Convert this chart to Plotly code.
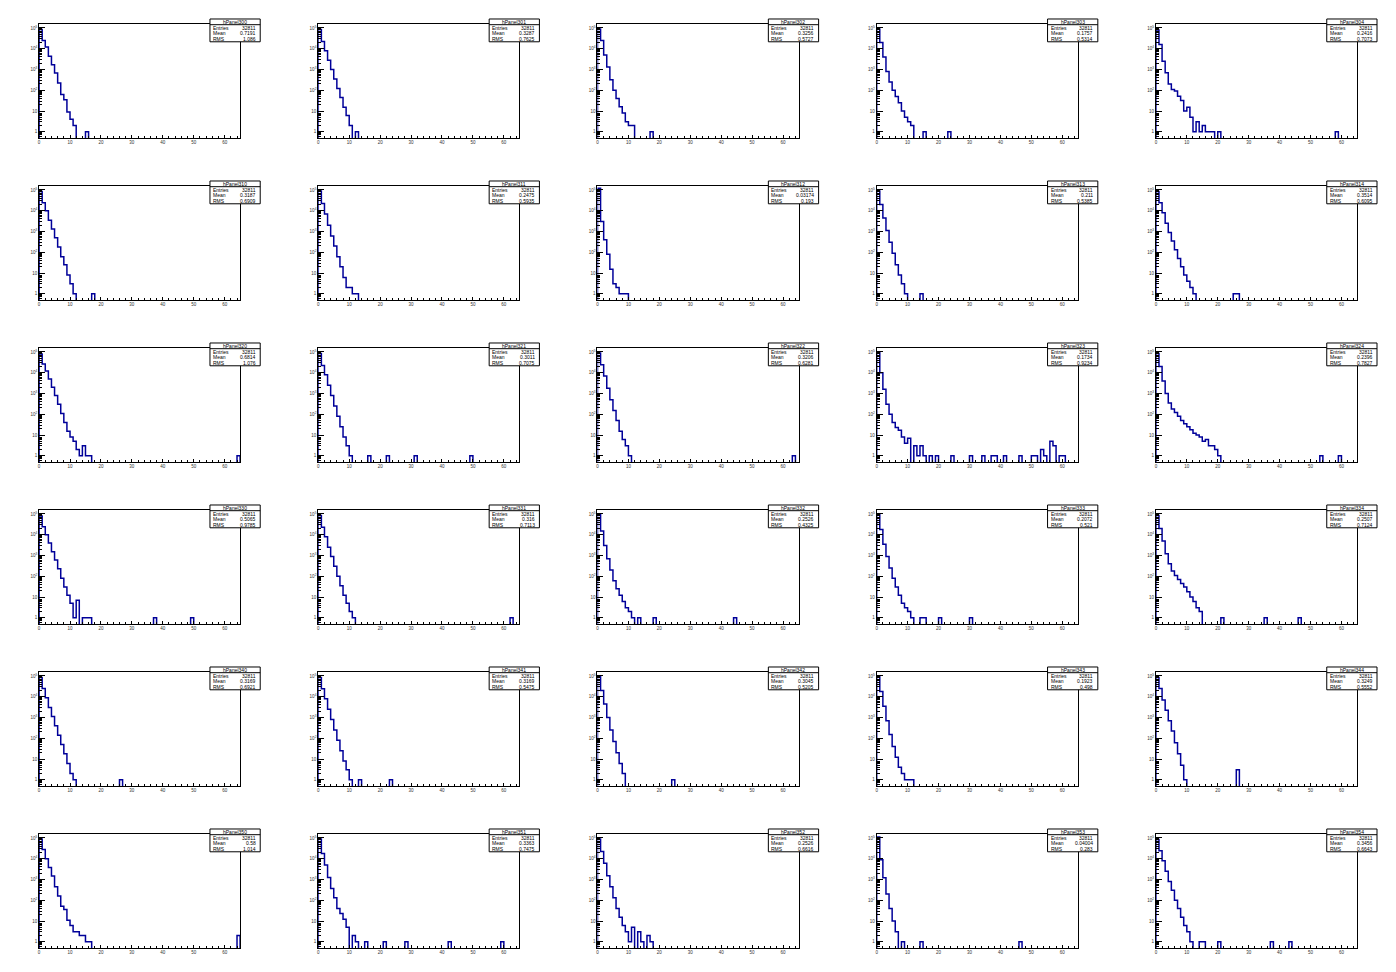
import math
import plotly.graph_objects as go

W, H = 1396, 972
NBINS = 65
X_MAX = 65
Y_MIN_LOG = math.log10(0.5)
Y_MAX_LOG = 5.19

# ---------------- data (bin contents, bin width 1 starting at 0) ----------------
panel_names = ["hPanel300", "hPanel301", "hPanel302", "hPanel303", "hPanel304",
               "hPanel310", "hPanel311", "hPanel312", "hPanel313", "hPanel314",
               "hPanel320", "hPanel321", "hPanel322", "hPanel323", "hPanel324",
               "hPanel330", "hPanel331", "hPanel332", "hPanel333", "hPanel334",
               "hPanel340", "hPanel341", "hPanel342", "hPanel343", "hPanel344",
               "hPanel350", "hPanel351", "hPanel352", "hPanel353", "hPanel354"]
stat_entries = ["32811"] * 30
stat_means = ["0.7191", "0.3287", "0.3256", "0.1757", "0.2416",
              "0.3187", "0.2475", "0.03174", "0.211", "0.3514",
              "0.6814", "0.3011", "0.3206", "0.1734", "0.2396",
              "0.5065", "0.316", "0.2526", "0.2072", "0.2507",
              "0.3169", "0.3169", "0.3045", "0.1923", "0.3249",
              "0.58", "0.3363", "0.2526", "0.04004", "0.3456"]
stat_rms = ["1.086", "0.7625", "0.5727", "0.5314", "0.7073",
            "0.6909", "0.5935", "0.193", "0.5385", "0.6095",
            "1.076", "0.7075", "0.6281", "0.9234", "0.7827",
            "0.9785", "0.7113", "0.4325", "0.521", "0.7124",
            "0.6921", "0.5475", "0.5205", "0.498", "0.5552",
            "1.014", "0.7475", "0.6616", "0.283", "0.6643"]

h300 = [85000, 25000, 12000, 4300, 1700, 680, 220, 63, 35, 9, 4, 2, 0, 0, 0, 1]
h301 = [85000, 22000, 8000, 2800, 1000, 350, 120, 45, 15, 6, 2, 0, 1]
h302 = [90000, 25000, 5000, 1300, 320, 100, 40, 16, 8, 3, 2, 2, 0, 0, 0, 0, 0, 1]
h303 = [90000, 20000, 4000, 800, 250, 100, 50, 25, 10, 5, 3, 2, 0, 0, 0, 1,
        0, 0, 0, 0, 0, 0, 0, 1]
h304 = [80000, 16000, 2500, 700, 200, 110, 93, 52, 32, 10, 15, 5, 1, 3, 1, 2,
        1, 1, 1, 0, 1] + [0] * 37 + [1]
h310 = [85000, 24000, 10000, 3500, 1300, 500, 180, 60, 25, 8, 3, 1, 0, 0, 0, 0, 0, 1]
h311 = [90000, 22000, 7000, 2000, 600, 200, 60, 20, 6, 2, 2, 1, 1]
h312 = [120000, 3000, 400, 80, 15, 3, 2, 1, 1, 1]
h313 = [90000, 20000, 4500, 1100, 300, 90, 25, 8, 3, 1, 0, 0, 0, 0, 1]
h314 = [85000, 24000, 8000, 2500, 900, 350, 130, 50, 20, 8, 4, 2, 1] + [0] * 12 + [1, 1]
h320 = [80000, 26000, 12000, 5000, 2000, 800, 300, 110, 40, 15, 8, 5, 2, 1, 3, 1, 1] + [0] * 47 + [1]
h321 = [85000, 22000, 8000, 2500, 800, 250, 80, 25, 8, 3, 1, 0, 0, 0, 0, 0, 1,
        0, 0, 0, 0, 0, 1] + [0] * 8 + [1] + [0] * 17 + [1]
h322 = [90000, 24000, 7000, 1800, 500, 150, 50, 15, 6, 3, 1] + [0] * 52 + [1]
h323 = [100000, 10000, 1600, 300, 100, 40, 23, 17, 8, 4, 7, 0, 3, 1, 3, 1, 0, 1, 0, 1,
        0, 0, 0, 0, 1, 0, 0, 0, 0, 0, 1, 0, 0, 0, 1, 0, 0, 1, 1, 0, 0, 1, 0, 0, 0, 0, 1,
        0, 0, 0, 1, 1, 0, 2, 1, 0, 5, 3, 0, 1, 1]
h324 = [85000, 20000, 4000, 1000, 350, 180, 120, 80, 50, 35, 25, 18, 12, 10, 8, 5, 6, 3, 3, 2, 1] + \
       [0] * 32 + [1, 0, 0, 0, 0, 0, 1]
h330 = [80000, 24000, 10000, 4000, 1500, 600, 230, 80, 30, 12, 5, 1, 7, 0, 1, 1, 1] + \
       [0] * 20 + [1] + [0] * 11 + [1]
h331 = [85000, 23000, 8000, 2500, 900, 300, 100, 35, 12, 5, 2, 1] + [0] * 50 + [1]
h332 = [95000, 15000, 3000, 700, 200, 60, 25, 12, 6, 3, 2, 1, 0, 1, 0, 0, 0, 0, 1] + [0] * 25 + [1]
h333 = [95000, 18000, 3500, 900, 250, 80, 30, 12, 5, 3, 2, 1, 0, 0, 1, 1, 0, 0, 0, 0, 1] + [0] * 9 + [1]
h334 = [85000, 20000, 5000, 1200, 400, 180, 110, 70, 45, 30, 18, 10, 6, 3, 2, 0, 0, 0, 0, 0, 0, 1] + \
       [0] * 13 + [1] + [0] * 10 + [1]
h340 = [85000, 25000, 9000, 3000, 1100, 400, 140, 50, 18, 6, 2, 1] + [0] * 14 + [1]
h341 = [85000, 24000, 8000, 2500, 800, 250, 80, 25, 8, 3, 1, 0, 0, 1] + [0] * 9 + [1]
h342 = [95000, 20000, 4500, 1000, 250, 70, 20, 6, 2] + [0] * 15 + [1]
h343 = [95000, 18000, 3500, 700, 150, 40, 12, 4, 2, 1, 1, 1]
h344 = [85000, 25000, 7000, 2200, 700, 220, 60, 18, 5, 1] + [0] * 16 + [3]
h350 = [90000, 28000, 10000, 3800, 1450, 450, 160, 52, 36, 11, 6, 3, 3, 2, 2, 1, 1] + [0] * 47 + [2]
h351 = [90000, 18000, 5000, 1260, 370, 130, 40, 23, 12, 5, 0, 2, 1, 0, 0, 1, 0, 0, 0, 0, 0, 1] + \
       [0] * 6 + [1] + [0] * 13 + [1] + [0] * 16 + [1]
h352 = [90000, 22000, 6000, 1500, 450, 130, 40, 15, 6, 3, 1, 5, 0, 3, 1, 0, 2, 1]
h353 = [110000, 9000, 1200, 200, 40, 10, 3, 0, 1, 0, 0, 0, 0, 0, 1] + [0] * 31 + [1]
h354 = [85000, 24000, 8000, 2500, 800, 300, 100, 40, 15, 6, 3, 1, 0, 0, 1, 1, 0, 0, 0, 0, 1] + \
       [0] * 16 + [1] + [0] * 5 + [1]

histos = [h300, h301, h302, h303, h304,
          h310, h311, h312, h313, h314,
          h320, h321, h322, h323, h324,
          h330, h331, h332, h333, h334,
          h340, h341, h342, h343, h344,
          h350, h351, h352, h353, h354]

x_tick_vals = [0, 10, 20, 30, 40, 50, 60]
x_minor_vals = [v for v in range(2, 65, 2) if v % 10 != 0]
y_tick_vals = [1, 10, 100, 1000, 10000, 100000]
y_tick_text = ["1", "10", "10<sup>2</sup>", "10<sup>3</sup>", "10<sup>4</sup>", "10<sup>5</sup>"]
y_minor_vals = [k * 10 ** d for d in range(-1, 6) for k in range(2, 10)]

NCOL, NROW = 5, 6
MARG = 0.01
PAD_W = 1.0 / NCOL - 2 * MARG
PAD_H = 1.0 / NROW - 2 * MARG
LINE_COLOR = "#000099"
FLOOR = 1e-3

fig = go.Figure()
shapes = []
annotations = []
layout = {}

for i, (name, counts) in enumerate(zip(panel_names, histos)):
    r, c = divmod(i, NCOL)
    k = i + 1
    xa = "x" if k == 1 else f"x{k}"
    ya = "y" if k == 1 else f"y{k}"
    xkey = "xaxis" if k == 1 else f"xaxis{k}"
    ykey = "yaxis" if k == 1 else f"yaxis{k}"

    pad_x0 = c / NCOL + MARG
    pad_top = 1 - (r / NROW + MARG)
    pad_bot = pad_top - PAD_H
    fx0, fx1 = pad_x0 + 0.1 * PAD_W, pad_x0 + 0.9 * PAD_W
    fy0, fy1 = pad_bot + 0.1 * PAD_H, pad_bot + 0.9 * PAD_H

    full = list(counts) + [0] * (NBINS - len(counts))
    vals = [v if v > 0 else FLOOR for v in full]
    xs = [0] + list(range(NBINS)) + [NBINS, NBINS]
    ys = [FLOOR] + vals + [vals[-1], FLOOR]
    fig.add_trace(go.Scatter(x=xs, y=ys, mode="lines", line=dict(color=LINE_COLOR, width=1.5, shape="hv"),
                             xaxis=xa, yaxis=ya, showlegend=False, hoverinfo="skip"))

    layout[xkey] = dict(domain=[fx0, fx1], anchor=ya, range=[0, X_MAX], showgrid=False, zeroline=False,
                        showline=True, mirror=True, linecolor="black", linewidth=1,
                        ticks="inside", ticklen=3.4, tickwidth=1, tickcolor="black",
                        tickmode="array", tickvals=x_tick_vals, ticktext=[str(v) for v in x_tick_vals],
                        tickfont=dict(family="Liberation Sans, Arial", size=4.5, color="#333"),
                        minor=dict(ticks="inside", ticklen=1.7, tickwidth=1, tickcolor="black",
                                   tickmode="array", tickvals=x_minor_vals, showgrid=False),
                        fixedrange=True)
    layout[ykey] = dict(domain=[fy0, fy1], anchor=xa, type="log", range=[Y_MIN_LOG, Y_MAX_LOG],
                        showgrid=False, zeroline=False,
                        showline=True, mirror=True, linecolor="black", linewidth=1,
                        ticks="inside", ticklen=6, tickwidth=1, tickcolor="black",
                        tickmode="array", tickvals=y_tick_vals, ticktext=y_tick_text,
                        tickfont=dict(family="Liberation Sans, Arial", size=4.5, color="#333"),
                        minor=dict(ticks="inside", ticklen=3, tickwidth=1, tickcolor="black",
                                   tickmode="array", tickvals=y_minor_vals, showgrid=False),
                        fixedrange=True)

    # stats box
    bx0 = pad_x0 + 0.78 * PAD_W
    bx1 = pad_x0 + 0.98 * PAD_W
    by0 = pad_bot + 0.775 * PAD_H
    by1 = pad_bot + 0.935 * PAD_H
    row_h = (by1 - by0) / 4
    shapes.append(dict(type="rect", xref="paper", yref="paper", x0=bx0, x1=bx1, y0=by0, y1=by1,
                       fillcolor="white", line=dict(color="black", width=1), layer="above"))
    shapes.append(dict(type="line", xref="paper", yref="paper", x0=bx0, x1=bx1,
                       y0=by1 - row_h, y1=by1 - row_h, line=dict(color="black", width=1), layer="above"))
    fnt = dict(family="Liberation Sans, Arial", size=5, color="black")
    annotations.append(dict(xref="paper", yref="paper", x=(bx0 + bx1) / 2, y=by1 - row_h / 2,
                            text=name, showarrow=False, font=fnt, xanchor="center", yanchor="middle",
                            borderpad=0))
    labels = ["Entries", "Mean", "RMS"]
    values = [stat_entries[i], stat_means[i], stat_rms[i]]
    for j, (lab, val) in enumerate(zip(labels, values)):
        yy = by1 - row_h * (j + 1.5)
        annotations.append(dict(xref="paper", yref="paper", x=bx0 + 0.0015, y=yy, text=lab,
                                showarrow=False, font=fnt, xanchor="left", yanchor="middle", borderpad=0))
        annotations.append(dict(xref="paper", yref="paper", x=bx1 - 0.0025, y=yy, text=val,
                                showarrow=False, font=fnt, xanchor="right", yanchor="middle", borderpad=0))

fig.update_layout(width=W, height=H, margin=dict(l=0, r=0, t=0, b=0), autosize=False,
                  paper_bgcolor="white", plot_bgcolor="white", showlegend=False,
                  shapes=shapes, annotations=annotations, **layout)

fig.write_html("out.html", config={"displayModeBar": False},
               post_script="document.body.style.margin='0';document.body.style.overflow='hidden';")
